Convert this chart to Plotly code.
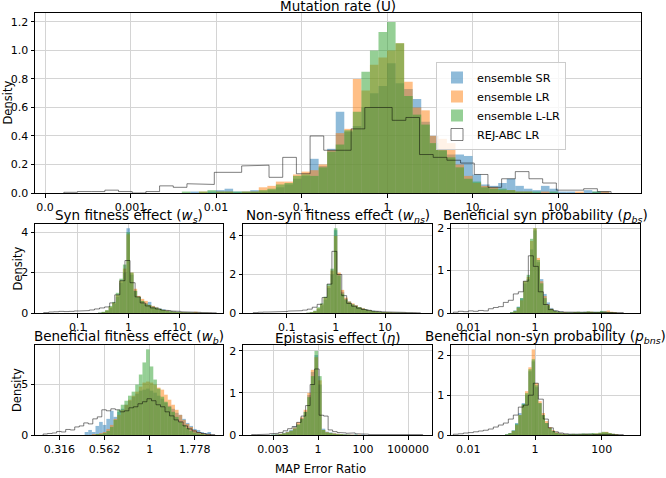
import plotly.graph_objects as go

# ---------------- DATA (x = log10 of MAP error ratio, y = density) ----------------
# Panel 1: Mutation rate (U)
U_ENS_START, U_ENS_BIN = -2.4, 0.1
U_SR = [0, 0.01, 0, 0.01, 0.02, 0.03, 0.01, 0.01, 0.02, 0.01, 0.02, 0.04, 0.06, 0.1, 0.12, 0.24, 0.19, 0.31,
        0.57, 0.43, 0.47, 0.6, 0.7, 0.75, 0.91, 0.77, 0.73, 0.66, 0.5, 0.4, 0.3, 0.27, 0.27, 0.26, 0.13, 0.06,
        0.05, 0.07, 0.1, 0.05, 0.03, 0.02, 0.05, 0.03, 0.01, 0.01, 0.0, 0.02, 0.01, 0.01]
U_LR = [0, 0, 0.01, 0, 0.01, 0.01, 0, 0.01, 0.01, 0.04, 0.05, 0.08, 0.08, 0.13, 0.15, 0.16, 0.2, 0.3,
        0.42, 0.45, 0.8, 0.72, 0.9, 0.95, 1.0, 1.05, 0.78, 0.6, 0.58, 0.4, 0.38, 0.35, 0.2, 0.12, 0.07, 0.05,
        0.04, 0.02, 0.02, 0.01, 0.01, 0.0, 0.01, 0.0, 0.0, 0.0, 0.01, 0.0, 0.0, 0.01]
U_LLR = [0.01, 0, 0.01, 0.02, 0.01, 0.01, 0.01, 0.01, 0.01, 0.02, 0.03, 0.06, 0.07, 0.12, 0.13, 0.12, 0.18, 0.29,
         0.34, 0.44, 0.57, 0.85, 1.0, 1.13, 1.2, 1.05, 0.68, 0.55, 0.48, 0.35, 0.3, 0.25, 0.18, 0.1, 0.08, 0.04,
         0.03, 0.03, 0.02, 0.01, 0.01, 0.01, 0.0, 0.01, 0.0, 0.0, 0.0, 0.0, 0.01, 0.0]
U_REJ_START, U_REJ_BIN = -3.78, 0.16
U_REJ = [0.005, 0.01, 0.01, 0.02, 0.01, 0.0, 0.01, 0.05, 0.04, 0.065, 0.06, 0.145, 0.145, 0.19, 0.195, 0.11,
         0.25, 0.135, 0.4, 0.3, 0.3, 0.45, 0.6, 0.6, 0.51, 0.53, 0.27, 0.25, 0.23, 0.21, 0.13, 0.04, 0.1, 0.15,
         0.1, 0.07, 0.02, 0.02, 0.03, 0.01]
U_TICKS = [-4, -3, -2, -1, 0, 1, 2]
U_TICKTEXT = ["0.0", "0.001", "0.01", "0.1", "1", "10", "100"]

# Panel 2: Syn fitness effect (w_s)
WS_ENS_START, WS_ENS_BIN = -0.6, 0.07
WS_SR = [0.02, 0.05, 0.1, 0.25, 0.45, 0.8, 1.5, 2.0, 4.2, 1.9, 1.1, 0.8, 0.6, 0.5, 0.55, 0.35, 0.3, 0.22, 0.18,
         0.12, 0.1, 0.08, 0.06, 0.05, 0.05, 0.04, 0.03, 0.02, 0.02, 0.01, 0.01, 0.01]
WS_LR = [0.01, 0.04, 0.12, 0.3, 0.5, 0.9, 1.6, 2.2, 3.9, 2.0, 1.2, 0.85, 0.7, 0.6, 0.4, 0.35, 0.28, 0.2, 0.15,
         0.12, 0.08, 0.07, 0.05, 0.05, 0.04, 0.03, 0.03, 0.06, 0.02, 0.01, 0.01, 0.01]
WS_LLR = [0.02, 0.06, 0.15, 0.35, 0.55, 1.0, 1.7, 2.4, 4.0, 2.0, 1.1, 0.8, 0.6, 0.45, 0.4, 0.3, 0.25, 0.2, 0.15,
          0.1, 0.08, 0.06, 0.05, 0.04, 0.03, 0.03, 0.02, 0.02, 0.01, 0.01, 0.01, 0.0]
WS_REJ_START, WS_REJ_BIN = -1.67, 0.1
WS_REJ = [0.02, 0.05, 0.06, 0.08, 0.07, 0.08, 0.1, 0.1, 0.12, 0.15, 0.2, 0.25, 0.3, 0.5, 0.9, 1.6, 2.6, 1.5, 0.8,
          0.5, 0.35, 0.25, 0.2, 0.15, 0.12, 0.1, 0.08, 0.06, 0.05, 0.04, 0.03, 0.02, 0.02, 0.01]
WS_TICKS = [-1, 0, 1]
WS_TICKTEXT = ["0.1", "1", "10"]

# Panel 3: Non-syn fitness effect (w_ns)
WNS_ENS_START, WNS_ENS_BIN = -0.6, 0.07
WNS_SR = [0.01, 0.03, 0.08, 0.2, 0.4, 0.7, 1.3, 2.0, 4.3, 2.0, 1.1, 0.75, 0.6, 0.45, 0.4, 0.3, 0.25, 0.2, 0.15,
          0.12, 0.1, 0.07, 0.06, 0.05, 0.04, 0.03, 0.03, 0.02, 0.02, 0.01, 0.01, 0.01]
WNS_LR = [0.01, 0.04, 0.1, 0.25, 0.45, 0.8, 1.4, 2.2, 4.0, 2.1, 1.2, 0.8, 0.6, 0.5, 0.4, 0.3, 0.25, 0.18, 0.14,
          0.1, 0.08, 0.06, 0.05, 0.05, 0.04, 0.03, 0.02, 0.02, 0.02, 0.01, 0.01, 0.01]
WNS_LLR = [0.02, 0.05, 0.12, 0.3, 0.5, 0.85, 1.5, 2.3, 4.4, 1.95, 1.0, 0.7, 0.55, 0.45, 0.35, 0.3, 0.22, 0.17,
           0.13, 0.1, 0.07, 0.05, 0.04, 0.04, 0.03, 0.02, 0.02, 0.02, 0.01, 0.01, 0.01, 0.0]
WNS_REJ_START, WNS_REJ_BIN = -1.68, 0.1
WNS_REJ = [0.02, 0.04, 0.05, 0.05, 0.06, 0.08, 0.08, 0.1, 0.1, 0.12, 0.15, 0.2, 0.3, 0.45, 0.8, 1.5, 3.2, 2.0, 0.9,
           0.5, 0.35, 0.25, 0.18, 0.14, 0.1, 0.08, 0.06, 0.05, 0.04, 0.03, 0.03, 0.02, 0.02, 0.01]
WNS_TICKS = [-1, 0, 1]
WNS_TICKTEXT = ["0.1", "1", "10"]

# Panel 4: Beneficial syn probability (p_bs)
PBS_ENS_START, PBS_ENS_BIN = -0.75, 0.1
PBS_SR = [0.02, 0.06, 0.15, 0.35, 0.7, 0.8, 1.5, 1.95, 1.2, 0.8, 0.45, 0.25, 0.12, 0.06, 0.04, 0.03, 0.02, 0.01,
          0.02, 0.02, 0.01, 0.02, 0.03, 0.02, 0.02, 0.03, 0.02, 0.04, 0.05, 0.03, 0.02, 0.01]
PBS_LR = [0.01, 0.04, 0.12, 0.3, 0.75, 0.85, 1.7, 2.0, 1.3, 0.75, 0.4, 0.2, 0.1, 0.05, 0.03, 0.02, 0.02, 0.01,
          0.01, 0.02, 0.02, 0.01, 0.02, 0.03, 0.03, 0.02, 0.02, 0.03, 0.04, 0.06, 0.03, 0.02]
PBS_LLR = [0.02, 0.05, 0.14, 0.35, 0.75, 0.9, 1.75, 2.0, 1.25, 0.7, 0.35, 0.18, 0.09, 0.05, 0.03, 0.02, 0.01, 0.02,
           0.01, 0.02, 0.03, 0.02, 0.02, 0.04, 0.03, 0.02, 0.03, 0.05, 0.03, 0.02, 0.02, 0.01]
PBS_REJ_START, PBS_REJ_BIN = -2.45, 0.15
PBS_REJ = [0.02, 0.04, 0.03, 0.05, 0.04, 0.06, 0.05, 0.1, 0.13, 0.15, 0.25, 0.3, 0.45, 0.5, 0.75, 1.35, 1.1, 0.5,
           0.2, 0.08, 0.05, 0.03, 0.02, 0.02, 0.01, 0.02, 0.01, 0.01, 0.02, 0.01, 0.01, 0.02, 0.01, 0.01]
PBS_TICKS = [-2, 0, 2]
PBS_TICKTEXT = ["0.01", "1", "100"]

# Panel 5: Beneficial fitness effect (w_b)
WB_ENS_START, WB_ENS_BIN = -0.36, 0.02
WB_SR = [0.3, 0.5, 0.3, 0.9, 1.3, 1.0, 1.6, 2.4, 1.8, 2.3, 2.6, 3.0, 3.4, 3.8, 4.1, 4.4, 4.5, 4.6, 4.4, 4.2, 3.9,
         3.6, 3.2, 2.9, 2.6, 2.2, 2.0, 1.6, 1.2, 0.9, 0.6, 0.5, 0.3, 0.2, 0.3]
WB_LR = [0.0, 0.0, 0.1, 0.1, 0.2, 0.3, 0.6, 1.0, 1.6, 2.0, 2.5, 3.0, 3.5, 3.9, 4.3, 4.8, 5.2, 5.3, 5.2, 5.0, 4.7,
         4.5, 4.0, 3.5, 3.0, 2.5, 2.0, 1.5, 1.1, 0.8, 0.5, 0.3, 0.2, 0.1, 0.1]
WB_LLR = [0.0, 0.0, 0.0, 0.1, 0.1, 0.2, 0.4, 0.8, 1.5, 2.5, 3.0, 3.4, 3.9, 4.3, 5.0, 6.0, 7.2, 8.5, 6.8, 5.5, 4.6,
          3.8, 3.3, 2.8, 2.3, 1.8, 1.3, 1.0, 0.7, 0.4, 0.25, 0.15, 0.1, 0.05, 0.0]
WB_REJ_START, WB_REJ_BIN = -0.59, 0.025
WB_REJ = [0.1, 0.15, 0.2, 0.35, 0.3, 0.55, 0.5, 0.8, 0.9, 1.2, 1.1, 1.6, 1.8, 2.5, 2.4, 2.6, 2.5, 2.3, 2.4, 2.7,
          2.8, 3.1, 3.3, 3.6, 3.4, 3.0, 2.8, 2.3, 1.9, 1.5, 1.3, 0.9, 0.6, 0.4, 0.25, 0.15, 0.08, 0.05]
WB_TICKS = [-0.5, -0.25, 0, 0.25]
WB_TICKTEXT = ["0.316", "0.562", "1", "1.778"]

# Panel 6: Epistasis effect (eta)
ETA_ENS_START, ETA_ENS_BIN = -2.6, 0.2
ETA_SR = [0.01, 0.02, 0.03, 0.05, 0.08, 0.12, 0.2, 0.25, 0.4, 0.55, 0.95, 1.5, 1.9, 1.2, 0.15, 0.08, 0.06, 0.04,
          0.03, 0.02, 0.02, 0.01, 0.01, 0.01, 0.0, 0.01]
ETA_LR = [0.0, 0.01, 0.03, 0.04, 0.07, 0.1, 0.18, 0.3, 0.42, 0.6, 1.0, 1.55, 1.85, 1.3, 0.12, 0.07, 0.05, 0.04,
          0.03, 0.02, 0.01, 0.01, 0.01, 0.0, 0.01, 0.0]
ETA_LLR = [0.01, 0.01, 0.02, 0.04, 0.06, 0.1, 0.15, 0.25, 0.38, 0.55, 0.9, 1.4, 2.0, 1.4, 0.12, 0.06, 0.05, 0.03,
           0.02, 0.02, 0.01, 0.01, 0.0, 0.01, 0.0, 0.0]
ETA_REJ_START, ETA_REJ_BIN = -3.69, 0.25
ETA_REJ = [0.01, 0.01, 0.02, 0.02, 0.03, 0.04, 0.06, 0.1, 0.15, 0.2, 0.3, 0.45, 0.7, 1.2, 1.57, 0.47, 0.45, 0.12,
           0.08, 0.06, 0.05, 0.04, 0.05, 0.03, 0.02, 0.02, 0.01, 0.01, 0.01, 0.0, 0.01, 0.0, 0.0, 0.01, 0.0, 0.0,
           0.0, 0.01]
ETA_TICKS = [-2.5, 0, 2.5, 5]
ETA_TICKTEXT = ["0.003", "1", "100", "100000"]

# Panel 7: Beneficial non-syn probability (p_bns)
PBNS_ENS_START, PBNS_ENS_BIN = -0.9, 0.1
PBNS_SR = [0.02, 0.05, 0.12, 0.3, 0.55, 0.8, 1.0, 1.6, 1.85, 1.2, 0.8, 0.5, 0.3, 0.18, 0.1, 0.06, 0.04, 0.03,
           0.02, 0.02, 0.01, 0.02, 0.01, 0.02, 0.03, 0.02, 0.02, 0.03, 0.04, 0.05, 0.06, 0.04, 0.03, 0.01]
PBNS_LR = [0.01, 0.04, 0.1, 0.25, 0.5, 0.75, 1.1, 1.7, 2.15, 1.3, 0.85, 0.55, 0.35, 0.2, 0.12, 0.07, 0.04, 0.03,
           0.02, 0.01, 0.02, 0.01, 0.02, 0.02, 0.03, 0.02, 0.03, 0.04, 0.05, 0.07, 0.08, 0.05, 0.03, 0.02]
PBNS_LLR = [0.02, 0.05, 0.11, 0.28, 0.5, 0.78, 1.05, 1.65, 1.9, 1.25, 0.8, 0.5, 0.3, 0.17, 0.1, 0.05, 0.03, 0.02,
            0.02, 0.02, 0.03, 0.02, 0.03, 0.04, 0.03, 0.04, 0.05, 0.04, 0.06, 0.08, 0.07, 0.05, 0.03, 0.01]
PBNS_REJ_START, PBNS_REJ_BIN = -2.45, 0.15
PBNS_REJ = [0.02, 0.03, 0.05, 0.06, 0.08, 0.1, 0.12, 0.15, 0.2, 0.25, 0.3, 0.4, 0.5, 0.7, 0.75, 1.0, 1.3, 0.9, 0.4,
            0.18, 0.08, 0.05, 0.03, 0.02, 0.02, 0.03, 0.02, 0.02, 0.01, 0.02, 0.02, 0.01, 0.01, 0.01]
PBNS_TICKS = [-2, 0, 2]
PBNS_TICKTEXT = ["0.01", "1", "100"]

SERIES_NAMES = ["ensemble SR", "ensemble LR", "ensemble L-LR", "REJ-ABC LR"]

# ---------------- LAYOUT / STYLE ----------------
W, H = 666, 478
ML, MR, MT, MB = 35, 25, 13, 43
PW, PH = W - ML - MR, H - MT - MB
FONT = "DejaVu Sans"
COLORS = ["rgba(31,119,180,0.5)", "rgba(255,127,14,0.5)", "rgba(44,160,44,0.5)"]
REJ_LINE = "rgba(0,0,0,0.5)"


def px_x(p):
    return (p - ML) / PW


def px_y(p):
    return (H - MB - p) / PH


panels = [
    dict(title="Mutation rate (U)", ens=(U_ENS_START, U_ENS_BIN, [U_SR, U_LR, U_LLR]),
         rej=(U_REJ_START, U_REJ_BIN, U_REJ), ticks=(U_TICKS, U_TICKTEXT),
         xr=[-4.117, 2.97], yr=[0, 1.263], yt=[0, 0.2, 0.4, 0.6, 0.8, 1.0, 1.2],
         xd=[px_x(35), px_x(641)], yd=[px_y(193), px_y(13)], ylab=True, ylabx=7.5),
    dict(title="Syn fitness effect (<i>w</i><sub><i>s</i></sub>)",
         ens=(WS_ENS_START, WS_ENS_BIN, [WS_SR, WS_LR, WS_LLR]),
         rej=(WS_REJ_START, WS_REJ_BIN, WS_REJ), ticks=(WS_TICKS, WS_TICKTEXT),
         xr=[-1.84, 1.86], yr=[0, 4.41], yt=[0, 2, 4],
         xd=[px_x(35), px_x(223)], yd=[px_y(313), px_y(224)], ylab=True, ylabx=17),
    dict(title="Non-syn fitness effect (<i>w</i><sub><i>ns</i></sub>)",
         ens=(WNS_ENS_START, WNS_ENS_BIN, [WNS_SR, WNS_LR, WNS_LLR]),
         rej=(WNS_REJ_START, WNS_REJ_BIN, WNS_REJ), ticks=(WNS_TICKS, WNS_TICKTEXT),
         xr=[-1.888, 1.955], yr=[0, 4.62], yt=[0, 2, 4],
         xd=[px_x(243), px_x(432)], yd=[px_y(313), px_y(224)], ylab=False),
    dict(title="Beneficial syn probability (<i>p</i><sub><i>bs</i></sub>)",
         ens=(PBS_ENS_START, PBS_ENS_BIN, [PBS_SR, PBS_LR, PBS_LLR]),
         rej=(PBS_REJ_START, PBS_REJ_BIN, PBS_REJ), ticks=(PBS_TICKS, PBS_TICKTEXT),
         xr=[-2.52, 3.15], yr=[0, 2.1], yt=[0, 1, 2],
         xd=[px_x(451), px_x(640)], yd=[px_y(313), px_y(224)], ylab=False),
    dict(title="Beneficial fitness effect (<i>w</i><sub><i>b</i></sub>)",
         ens=(WB_ENS_START, WB_ENS_BIN, [WB_SR, WB_LR, WB_LLR]),
         rej=(WB_REJ_START, WB_REJ_BIN, WB_REJ), ticks=(WB_TICKS, WB_TICKTEXT),
         xr=[-0.635, 0.406], yr=[0, 8.93], yt=[0, 5],
         xd=[px_x(35), px_x(223)], yd=[px_y(435), px_y(345)], ylab=True, ylabx=17),
    dict(title="Epistasis effect (<i>η</i>)",
         ens=(ETA_ENS_START, ETA_ENS_BIN, [ETA_SR, ETA_LR, ETA_LLR]),
         rej=(ETA_REJ_START, ETA_REJ_BIN, ETA_REJ), ticks=(ETA_TICKS, ETA_TICKTEXT),
         xr=[-4.17, 6.33], yr=[0, 2.14], yt=[0, 1, 2],
         xd=[px_x(243), px_x(432)], yd=[px_y(435), px_y(345)], ylab=False),
    dict(title="Beneficial non-syn probability (<i>p</i><sub><i>bns</i></sub>)",
         ens=(PBNS_ENS_START, PBNS_ENS_BIN, [PBNS_SR, PBNS_LR, PBNS_LLR]),
         rej=(PBNS_REJ_START, PBNS_REJ_BIN, PBNS_REJ), ticks=(PBNS_TICKS, PBNS_TICKTEXT),
         xr=[-2.52, 3.15], yr=[0, 2.26], yt=[0, 1, 2],
         xd=[px_x(451), px_x(640)], yd=[px_y(435), px_y(345)], ylab=False),
]

fig = go.Figure()
annotations = []
layout_axes = {}

for k, p in enumerate(panels):
    ax = "" if k == 0 else str(k + 1)
    xref, yref = "x" + ax, "y" + ax
    start, width, series = p["ens"]
    for j, heights in enumerate(series):
        centers = [start + width * (i + 0.5) for i in range(len(heights))]
        fig.add_trace(go.Bar(
            x=centers, y=heights, width=[width] * len(heights),
            marker=dict(color=COLORS[j], line=dict(width=0)),
            name=SERIES_NAMES[j], legendgroup=SERIES_NAMES[j], showlegend=(k == 0),
            xaxis=xref, yaxis=yref, hoverinfo="skip"))
    if k == 0:
        # legend swatch for the step outline (empty box, like the reference legend)
        fig.add_trace(go.Bar(
            x=[None], y=[None], marker=dict(color="white", line=dict(color=REJ_LINE, width=1)),
            name=SERIES_NAMES[3], legendgroup=SERIES_NAMES[3], showlegend=True,
            xaxis=xref, yaxis=yref, hoverinfo="skip"))
    rs, rw, rh = p["rej"]
    xs, ys = [rs], [0]
    for i, h in enumerate(rh):
        xs += [rs + rw * i, rs + rw * (i + 1)]
        ys += [h, h]
    xs.append(rs + rw * len(rh))
    ys.append(0)
    fig.add_trace(go.Scatter(
        x=xs, y=ys, mode="lines",
        line=dict(color=REJ_LINE, width=1), name=SERIES_NAMES[3], legendgroup=SERIES_NAMES[3],
        showlegend=False, xaxis=xref, yaxis=yref, hoverinfo="skip"))

    common = dict(showline=True, mirror=True, linecolor="black", linewidth=1,
                  showgrid=True, gridcolor="#d4d4d4", gridwidth=1, zeroline=False,
                  ticks="outside", ticklen=3.5, tickwidth=0.8, tickcolor="black",
                  tickfont=dict(family=FONT, size=11, color="black"))
    layout_axes["xaxis" + ax] = dict(common, domain=p["xd"], range=p["xr"], anchor=yref,
                                     tickmode="array", tickvals=p["ticks"][0], ticktext=p["ticks"][1])
    ykw = dict(common, domain=p["yd"], range=p["yr"], anchor=xref, tickmode="array", tickvals=p["yt"])
    if k == 0:
        ykw["ticktext"] = ["%.1f" % v for v in p["yt"]]
    layout_axes["yaxis" + ax] = ykw

    xc = (p["xd"][0] + p["xd"][1]) / 2
    ytop_px = H - MB - p["yd"][1] * PH
    annotations.append(dict(text=p["title"], x=xc, y=px_y(ytop_px + 2), xref="paper", yref="paper",
                            xanchor="center", yanchor="bottom", showarrow=False, borderpad=0,
                            font=dict(family=FONT, size=13.5, color="black")))
    if p["ylab"]:
        ymid = (p["yd"][0] + p["yd"][1]) / 2
        annotations.append(dict(text="Density", x=px_x(p["ylabx"]), y=ymid, xref="paper", yref="paper",
                                xanchor="center", yanchor="middle", textangle=-90, showarrow=False,
                                font=dict(family=FONT, size=11.5, color="black")))

annotations.append(dict(text="MAP Error Ratio", x=px_x(320), y=px_y(469), xref="paper", yref="paper",
                        xanchor="center", yanchor="middle", showarrow=False,
                        font=dict(family=FONT, size=11.7, color="black")))

fig.update_layout(
    width=W, height=H, margin=dict(l=ML, r=MR, t=MT, b=MB),
    paper_bgcolor="white", plot_bgcolor="white", barmode="overlay",
    font=dict(family=FONT, size=11, color="black"),
    annotations=annotations,
    legend=dict(x=px_x(436), y=px_y(62), xanchor="left", yanchor="top",
                bgcolor="rgba(255,255,255,0.8)", bordercolor="#cccccc", borderwidth=1,
                font=dict(family=FONT, size=11.25, color="black"), tracegroupgap=0,
                itemwidth=30),
    **layout_axes,
)

fig.write_html("out.html", config={"displayModeBar": False},
               post_script="document.body.style.margin='0px';")
